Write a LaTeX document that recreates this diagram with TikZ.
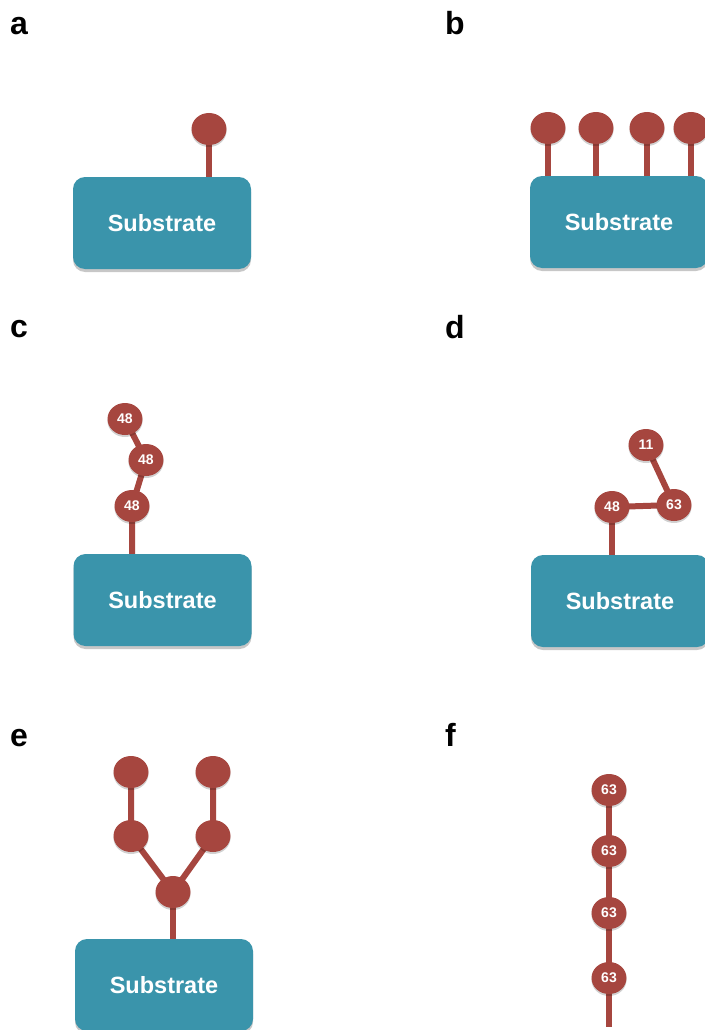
\documentclass[tikz,border=0pt]{standalone}
\usepackage{fontspec}
\setmainfont{Liberation Sans}
\usetikzlibrary{shapes.geometric,shadows}
\definecolor{boxcol}{HTML}{3A94AB}
\definecolor{molcol}{HTML}{A6463F}
\pgfdeclarelayer{back}
\pgfdeclarelayer{bg}
\pgfsetlayers{back,bg,main}
\begin{document}
\begin{tikzpicture}[x=1pt,y=-1pt,
  sub/.style={fill=boxcol, rounded corners=12pt, minimum width=178pt, minimum height=92pt,
    inner sep=0pt, text=white, font=\bfseries\fontsize{23.5}{26}\selectfont,
    drop shadow={shadow xshift=0pt, shadow yshift=-3pt, opacity=0.22, fill=black}},
  mol/.style={ellipse, fill=molcol, minimum width=35pt, minimum height=32pt, inner sep=0pt,
    text=white, font=\bfseries\fontsize{14}{16}\selectfont,
    drop shadow={shadow xshift=0pt, shadow yshift=-2pt, opacity=0.18, fill=black}},
  link/.style={draw=molcol, line width=6pt},
  lab/.style={anchor=base west, inner sep=0pt, font=\bfseries\fontsize{32}{36}\selectfont}]
\begin{pgfonlayer}{back}
\fill[white] (0,0) rectangle (704,1030);
\end{pgfonlayer}
\useasboundingbox (0,0) rectangle (704,1030);

% labels
\node[lab] (la) at (10,35) {a};
\node[lab] (lb) at (445,35) {b};
\node[lab] (lc) at (10,337) {c};
\node[lab] (ld) at (445,338) {d};
\node[lab] (le) at (10,746) {e};
\node[lab] (lf) at (445,746) {f};

% panel a
\node[sub] (sa) at (162,223) {Substrate};
\node[mol] (a1) at (209,129) {};
% panel b
\node[sub] (sb) at (619,222) {Substrate};
\node[mol] (b1) at (548,128) {};
\node[mol] (b2) at (596,128) {};
\node[mol] (b3) at (647,128) {};
\node[mol] (b4) at (691,128) {};
% panel c
\node[sub] (sc) at (162.5,600) {Substrate};
\node[mol] (c1) at (125,419) {48};
\node[mol] (c2) at (146,460) {48};
\node[mol] (c3) at (132,506) {48};
% panel d
\node[sub] (sd) at (620,601) {Substrate};
\node[mol] (d1) at (646,445) {11};
\node[mol] (d2) at (612,507) {48};
\node[mol] (d3) at (674,505) {63};
% panel e
\node[sub] (se) at (164,985) {Substrate};
\node[mol] (e1) at (131,772) {};
\node[mol] (e2) at (213,772) {};
\node[mol] (e3) at (131,836) {};
\node[mol] (e4) at (213,836) {};
\node[mol] (e5) at (173,892) {};
% panel f
\node[mol] (f1) at (609,790) {63};
\node[mol] (f2) at (609,851) {63};
\node[mol] (f3) at (609,913) {63};
\node[mol] (f4) at (609,978) {63};
\coordinate (fend) at (609,1027);

\begin{pgfonlayer}{bg}
\draw[link] (a1.center) -- (a1 |- sa.north);
\draw[link] (b1.center) -- (b1 |- sb.north);
\draw[link] (b2.center) -- (b2 |- sb.north);
\draw[link] (b3.center) -- (b3 |- sb.north);
\draw[link] (b4.center) -- (b4 |- sb.north);
\draw[link] (c1.center) -- (c2.center) -- (c3.center) -- (c3 |- sc.north);
\draw[link] (d1.center) -- (d3.center);
\draw[link] (d3.center) -- (d2.center);
\draw[link] (d2.center) -- (d2 |- sd.north);
\draw[link] (e1.center) -- (e3.center) -- (e5.center);
\draw[link] (e2.center) -- (e4.center) -- (e5.center);
\draw[link] (e5.center) -- (e5 |- se.north);
\draw[link] (f1.center) -- (f2.center) -- (f3.center) -- (f4.center) -- (fend);
\end{pgfonlayer}
\end{tikzpicture}
\end{document}
